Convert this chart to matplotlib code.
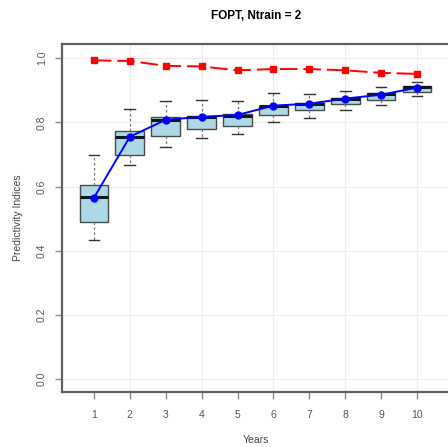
import matplotlib
matplotlib.use('AGG')
import matplotlib.pyplot as plt

plt.rcParams['font.family'] = ['Liberation Sans', 'DejaVu Sans']

years = [1, 2, 3, 4, 5, 6, 7, 8, 9, 10]
# box statistics per year
whislo = [0.433, 0.668, 0.724, 0.750, 0.765, 0.801, 0.815, 0.838, 0.855, 0.882]
q1 = [0.490, 0.698, 0.758, 0.778, 0.790, 0.824, 0.838, 0.858, 0.871, 0.895]
med = [0.567, 0.755, 0.807, 0.816, 0.821, 0.851, 0.857, 0.873, 0.887, 0.910]
q3 = [0.606, 0.773, 0.816, 0.820, 0.826, 0.852, 0.860, 0.875, 0.890, 0.913]
whishi = [0.698, 0.840, 0.867, 0.869, 0.868, 0.890, 0.889, 0.899, 0.911, 0.927]
# blue line (mean) and red line (max)
mean_line = [0.565, 0.755, 0.808, 0.817, 0.823, 0.852, 0.858, 0.874, 0.886, 0.908]
max_line = [0.993, 0.991, 0.976, 0.974, 0.962, 0.966, 0.966, 0.962, 0.954, 0.951]
yticks = [0.0, 0.2, 0.4, 0.6, 0.8, 1.0]

fig = plt.figure(figsize=(4.48, 4.47), dpi=100)
ax = fig.add_axes([62/448, 55/447, 388/448, 348/447])

ax.set_xlim(0.11, 10.92)
ax.set_ylim(-0.04, 1.044)

# faint grid
for gx in [2, 4, 6, 8, 10]:
    ax.axvline(gx, color='#eeeeee', lw=0.8, zorder=0)
for gy in yticks:
    ax.axhline(gy, color='#eeeeee', lw=0.8, zorder=0)
ax.axhline(1.0, color='#fbe3e3', lw=0.8, zorder=0)

stats = []
for i in range(len(years)):
    stats.append({'whislo': whislo[i], 'q1': q1[i], 'med': med[i],
                  'q3': q3[i], 'whishi': whishi[i], 'fliers': []})

ax.bxp(stats, positions=years, widths=0.8, patch_artist=True,
       showfliers=False, manage_ticks=False,
       boxprops=dict(facecolor='#add8e6', edgecolor='#4a4a4a', lw=1.0),
       medianprops=dict(color='#0a1a1a', lw=2.2),
       whiskerprops=dict(color='#777777', lw=0.9, linestyle=(0, (2, 2))),
       capprops=dict(color='#333333', lw=1.0), capwidths=0.3)

ax.plot(years, mean_line, '-o', color='blue', lw=1.4, ms=5, zorder=5)
ax.plot(years, max_line, color='red', lw=1.4, ls=(0, (9, 3)), marker='s',
        ms=3.8, zorder=5)

ax.set_xticks(years)
ax.set_xticklabels([str(y) for y in years])
ax.set_yticks(yticks)
ax.set_yticklabels(['0.0', '0.2', '0.4', '0.6', '0.8', '1.0'], rotation=90,
                   va='center')
ax.tick_params(colors='#888888', labelcolor='#555555', labelsize=7.5,
               length=5, width=1)
ax.tick_params(axis='x', pad=8)
ax.tick_params(axis='y', pad=6)

for s in ax.spines.values():
    s.set_color('#606060')
    s.set_linewidth(1.6)

ax.set_xlabel('Years', fontsize=7.5, color='#444444', labelpad=11)
ax.set_ylabel('Predictivity Indices', fontsize=7.5, color='#444444',
              labelpad=10)
ax.set_title('FOPT, Ntrain = 2', fontsize=8.5, fontweight='bold', pad=18)

fig.savefig('out.png', dpi=100)
